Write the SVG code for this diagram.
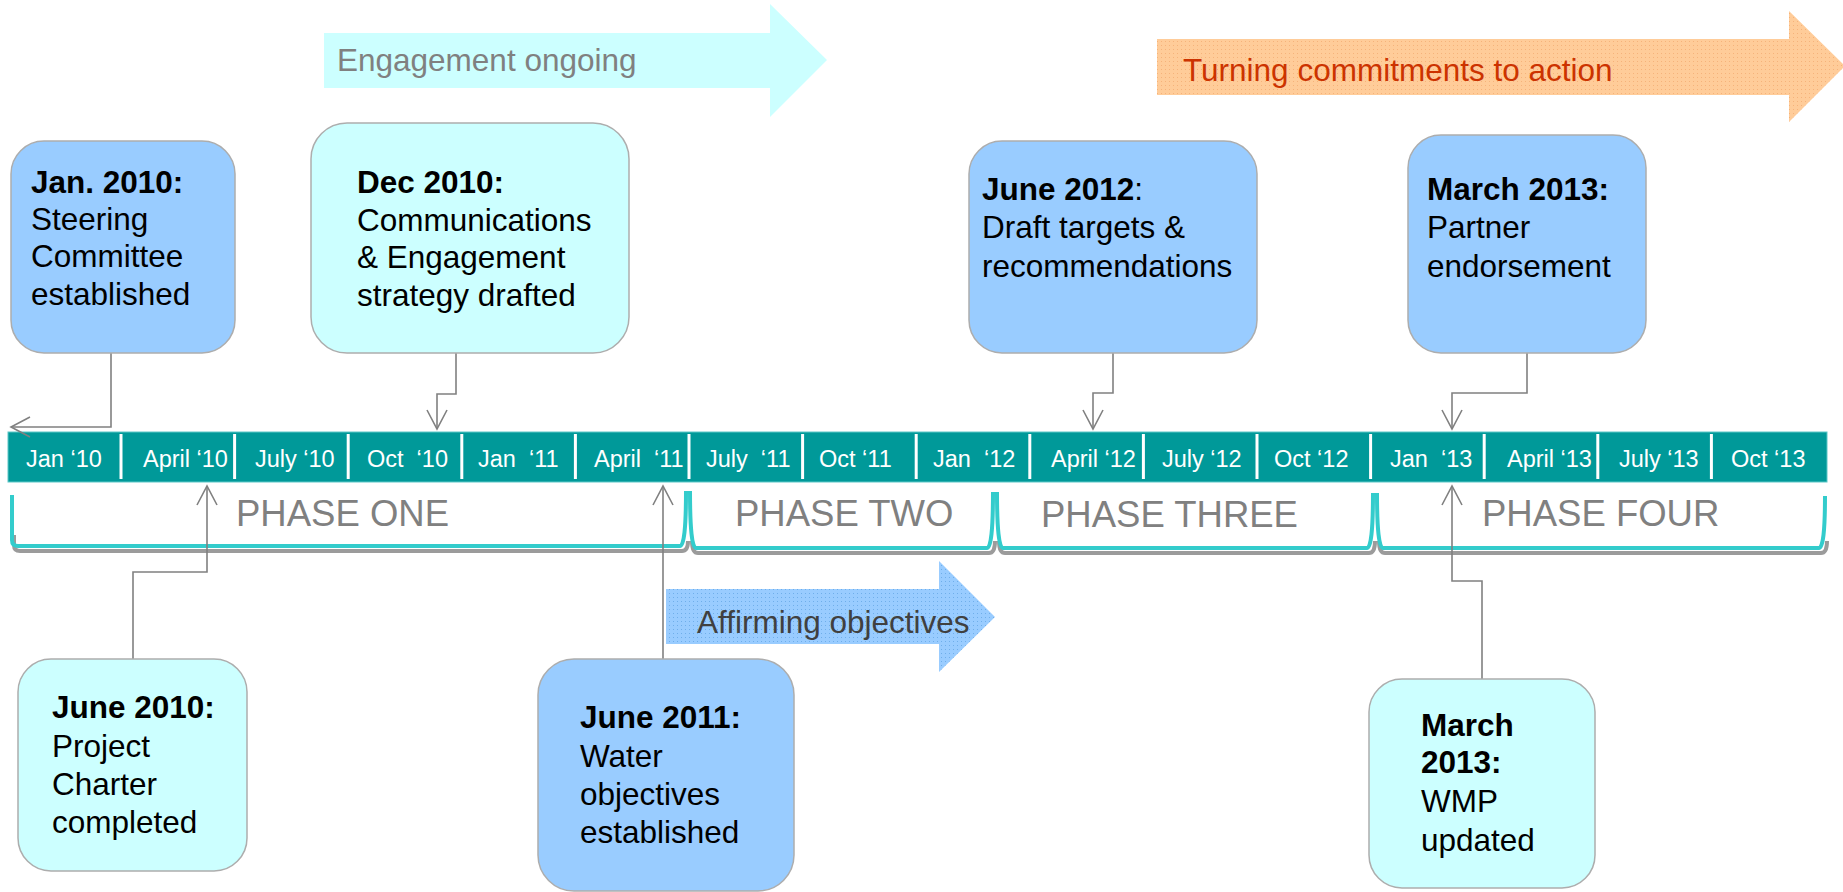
<svg xmlns="http://www.w3.org/2000/svg" width="1843" height="892" viewBox="0 0 1843 892">
<defs>
  <style>
    .t{font-family:"Liberation Sans",Arial,sans-serif;font-size:31.5px;fill:#000}
    .b{font-weight:bold}
    .blue{fill:#99CCFF;stroke:#ADADAD;stroke-width:1.5}
    .cyan{fill:#CCFFFF;stroke:#ADADAD;stroke-width:1.5}
    .lbl{font-family:"Liberation Sans",Arial,sans-serif;font-size:23.5px;fill:#fff;white-space:pre}
    .ph{font-family:"Liberation Sans",Arial,sans-serif;font-size:36.5px;fill:#808080}
    .br{fill:none;stroke:#33CCCC;stroke-width:4;stroke-linejoin:round}
    .brs{fill:none;stroke:#7A7A7A;stroke-width:4;opacity:0.75}
    .div{stroke:#fff;stroke-width:3}
    .con{fill:none;stroke:#808080;stroke-width:1.6}
  </style>
  <pattern id="dotOrange" width="4" height="4" patternUnits="userSpaceOnUse">
    <rect width="4" height="4" fill="#FFCC99"/>
    <rect x="1" y="1" width="1" height="1" fill="#F5B27A"/>
  </pattern>
  <pattern id="dotBlue" width="4" height="4" patternUnits="userSpaceOnUse">
    <rect width="4" height="4" fill="#99CCFF"/>
    <rect x="1" y="1" width="1" height="1" fill="#6FAEEA"/>
  </pattern>
  <marker id="open" viewBox="-22 -12 24 24" markerWidth="24" markerHeight="24" refX="0" refY="0" orient="auto" markerUnits="userSpaceOnUse">
    <path d="M-19,-10 L0,0 L-19,10" fill="none" stroke="#808080" stroke-width="1.6"/>
  </marker>
</defs>

<!-- Phase arrows -->
<g id="engagement-arrow">
  <polygon points="324,33 770,33 770,4 827,60 770,117 770,88 324,88" fill="#CCFFFF"/>
  <text class="t" x="337" y="71" style="fill:#808080">Engagement ongoing</text>
</g>
<g id="turning-arrow">
  <polygon points="1157,39 1789,39 1789,11 1845,66 1789,122 1789,95 1157,95" fill="url(#dotOrange)"/>
  <text class="t" x="1183" y="81" style="fill:#CC3300">Turning commitments to action</text>
</g>
<g id="affirming-arrow">
  <polygon points="666,589 939,589 939,561 995,617 939,672 939,644 666,644" fill="url(#dotBlue)"/>
  <text class="t" x="697" y="633" style="fill:#404040">Affirming objectives</text>
</g>

<!-- Timeline bar -->
<g id="timeline">
  <rect x="8" y="432" width="1819" height="50" fill="#009999" stroke="#5CC7C7" stroke-width="1"/>
  <g>
    <line class="div" x1="121" y1="434" x2="121" y2="479"/>
    <line class="div" x1="234.6" y1="434" x2="234.6" y2="479"/>
    <line class="div" x1="348.2" y1="434" x2="348.2" y2="479"/>
    <line class="div" x1="461.8" y1="434" x2="461.8" y2="479"/>
    <line class="div" x1="575.4" y1="434" x2="575.4" y2="479"/>
    <line class="div" x1="689" y1="434" x2="689" y2="479"/>
    <line class="div" x1="802.6" y1="434" x2="802.6" y2="479"/>
    <line class="div" x1="916.2" y1="434" x2="916.2" y2="479"/>
    <line class="div" x1="1029.8" y1="434" x2="1029.8" y2="479"/>
    <line class="div" x1="1143.4" y1="434" x2="1143.4" y2="479"/>
    <line class="div" x1="1257" y1="434" x2="1257" y2="479"/>
    <line class="div" x1="1370.6" y1="434" x2="1370.6" y2="479"/>
    <line class="div" x1="1484.2" y1="434" x2="1484.2" y2="479"/>
    <line class="div" x1="1597.8" y1="434" x2="1597.8" y2="479"/>
    <line class="div" x1="1711.4" y1="434" x2="1711.4" y2="479"/>
  </g>
  <g xml:space="preserve">
    <text class="lbl" x="26" y="467">Jan ‘10</text>
    <text class="lbl" x="143" y="467">April ‘10</text>
    <text class="lbl" x="255" y="467">July ‘10</text>
    <text class="lbl" x="367" y="467">Oct  ‘10</text>
    <text class="lbl" x="478" y="467">Jan  ‘11</text>
    <text class="lbl" x="594" y="467">April  ‘11</text>
    <text class="lbl" x="706" y="467">July  ‘11</text>
    <text class="lbl" x="819" y="467">Oct ‘11</text>
    <text class="lbl" x="933" y="467">Jan  ‘12</text>
    <text class="lbl" x="1051" y="467">April ‘12</text>
    <text class="lbl" x="1162" y="467">July ‘12</text>
    <text class="lbl" x="1274" y="467">Oct ‘12</text>
    <text class="lbl" x="1390" y="467">Jan  ‘13</text>
    <text class="lbl" x="1507" y="467">April ‘13</text>
    <text class="lbl" x="1619" y="467">July ‘13</text>
    <text class="lbl" x="1731" y="467">Oct ‘13</text>
  </g>
</g>

<!-- Phase brackets -->
<g id="phases">
  <g transform="translate(2,5)">
    <path class="brs" d="M12,530 L12,540 Q12,546 18,546 L680,546 Q686,546 686,536"/>
    <path class="brs" d="M690,536 Q690,548 696,548 L987,548 Q993,548 993,536"/>
    <path class="brs" d="M997,536 Q997,548 1003,548 L1367,548 Q1373,548 1373,536"/>
    <path class="brs" d="M1377,536 Q1377,548 1383,548 L1819,548 Q1825,548 1825,536"/>
  </g>
  <path class="br" d="M12,495 L12,540 Q12,546 18,546 L680,546 Q686,546 686,491"/>
  <path class="br" d="M690,491 Q690,548 696,548 L987,548 Q993,548 993,492"/>
  <path class="br" d="M997,492 Q997,548 1003,548 L1367,548 Q1373,548 1373,493"/>
  <path class="br" d="M1377,493 Q1377,548 1383,548 L1819,548 Q1825,548 1825,496"/>
  <text class="ph" x="236" y="526">PHASE ONE</text>
  <text class="ph" x="735" y="526">PHASE TWO</text>
  <text class="ph" x="1041" y="527">PHASE THREE</text>
  <text class="ph" x="1482" y="526">PHASE FOUR</text>
</g>

<!-- Connectors -->
<g id="connectors" class="con">
  <path d="M111,353 L111,427 L11,427" marker-end="url(#open)"/>
  <path d="M456,353 L456,394 L437,394 L437,429" marker-end="url(#open)"/>
  <path d="M1113,353 L1113,393 L1093,393 L1093,429" marker-end="url(#open)"/>
  <path d="M1527,353 L1527,393 L1452,393 L1452,429" marker-end="url(#open)"/>
  <path d="M133,659 L133,572 L207,572 L207,486" marker-end="url(#open)"/>
  <path d="M663,659 L663,486" marker-end="url(#open)"/>
  <path d="M1482,679 L1482,581 L1452,581 L1452,486" marker-end="url(#open)"/>
</g>

<!-- Nodes -->
<g id="jan2010">
  <rect class="blue" x="11" y="141" width="224" height="212" rx="33"/>
  <text class="t" x="31"><tspan class="b" x="31" y="193">Jan. 2010:</tspan><tspan x="31" y="230">Steering</tspan><tspan x="31" y="267">Committee</tspan><tspan x="31" y="305">established</tspan></text>
</g>
<g id="dec2010">
  <rect class="cyan" x="311" y="123" width="318" height="230" rx="36"/>
  <text class="t" x="357"><tspan class="b" x="357" y="193">Dec 2010:</tspan><tspan x="357" y="231">Communications</tspan><tspan x="357" y="268">&amp; Engagement</tspan><tspan x="357" y="306">strategy drafted</tspan></text>
</g>
<g id="june2012">
  <rect class="blue" x="969" y="141" width="288" height="212" rx="33"/>
  <text class="t" x="982"><tspan x="982" y="200"><tspan class="b">June 2012</tspan>:</tspan><tspan x="982" y="238">Draft targets &amp;</tspan><tspan x="982" y="277">recommendations</tspan></text>
</g>
<g id="march2013-partner">
  <rect class="blue" x="1408" y="135" width="238" height="218" rx="33"/>
  <text class="t" x="1427"><tspan class="b" x="1427" y="200">March 2013:</tspan><tspan x="1427" y="238">Partner</tspan><tspan x="1427" y="277">endorsement</tspan></text>
</g>
<g id="june2010">
  <rect class="cyan" x="18" y="659" width="229" height="212" rx="33"/>
  <text class="t" x="52"><tspan class="b" x="52" y="718">June 2010:</tspan><tspan x="52" y="757">Project</tspan><tspan x="52" y="795">Charter</tspan><tspan x="52" y="833">completed</tspan></text>
</g>
<g id="june2011">
  <rect class="blue" x="538" y="659" width="256" height="232" rx="36"/>
  <text class="t" x="580"><tspan class="b" x="580" y="728">June 2011:</tspan><tspan x="580" y="767">Water</tspan><tspan x="580" y="805">objectives</tspan><tspan x="580" y="843">established</tspan></text>
</g>
<g id="march2013-wmp">
  <rect class="cyan" x="1369" y="679" width="226" height="209" rx="33"/>
  <text class="t" x="1421"><tspan class="b" x="1421" y="736">March</tspan><tspan class="b" x="1421" y="773">2013:</tspan><tspan x="1421" y="812">WMP</tspan><tspan x="1421" y="851">updated</tspan></text>
</g>
</svg>
